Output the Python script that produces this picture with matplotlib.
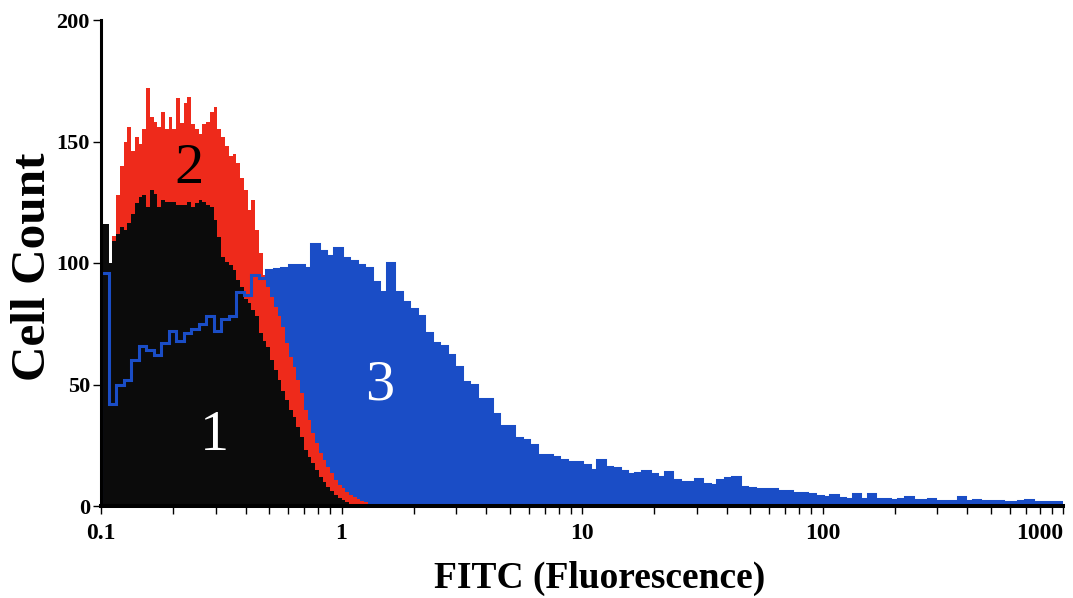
import numpy as np
import matplotlib
matplotlib.use("Agg")
import matplotlib.pyplot as plt
from matplotlib.ticker import LogLocator, FixedLocator, NullFormatter

# ---------------- data (cell counts per channel) ----------------
# fine channels (64 per decade starting at 0.1) for samples 1 and 2
black_counts = [116, 116, 100, 109, 112, 115, 113.5, 116.5, 120, 124.5, 127, 128, 123, 130,
                128.5, 123, 126, 125, 125, 125, 124, 124, 124, 125, 123, 124.5, 126, 125,
                124, 123, 117.5, 110.5, 102.5, 100.5, 99, 97, 93, 90, 85, 83.5, 80.5, 78,
                71, 68, 65.5, 60, 56, 52, 47.5, 43.5, 39.5, 36.5, 32.5, 28.5, 23, 20, 17.5,
                15, 12, 10, 8, 6, 4.5, 3.3, 2.5, 1.6, 1, 0.5, 0]
red_counts = [0, 0, 100, 111, 128, 140, 150, 156, 146, 152, 149, 155, 172, 160, 158, 156,
              162, 155, 160, 155, 168, 157.5, 166, 168.5, 157, 155, 153, 157, 158, 162, 164,
              155, 152, 148, 144, 145, 141, 135, 130, 122, 126, 113.6, 104, 95, 90, 86, 82,
              78, 73.7, 67, 61.5, 57, 52, 46.5, 39.5, 35.4, 30, 26, 21.8, 19, 16, 13.6, 10.7,
              8.6, 7.4, 5.8, 4.5, 3.7, 2.9, 2, 1.5, 1, 0.5, 0]
# coarser channels (32 per decade, 0.1 .. 1000) for sample 3
blue_counts = [96, 42, 50, 52, 60, 66, 64, 62, 67, 72,
               68, 71, 73, 75, 78, 72, 77, 78, 88, 87,
               95, 94, 97, 97.5, 98, 99, 99, 98, 108, 105,
               103, 106, 102, 101, 99, 98, 92, 88, 100, 88,
               84, 81, 78, 71, 67, 66, 62, 57, 51, 50,
               44, 44, 38, 33, 33, 28, 27, 25, 21, 21,
               20, 19, 18, 18, 17, 15, 19, 16, 15.5, 14.5,
               13, 13.5, 14.5, 13, 12, 14, 10.5, 10, 10, 11,
               9, 8.5, 10.5, 11.5, 12, 8, 7.5, 7, 7, 6.8,
               6, 6, 5.5, 5.5, 5, 4, 3.5, 4.5, 3.3, 3,
               4.8, 3, 4.8, 2.7, 2.7, 2.6, 3, 3.5, 2.4, 2.4,
               3, 2.2, 2.2, 2.1, 3.5, 2, 2.5, 2.2, 2.2, 2,
               1.8, 1.8, 2.2, 2.5, 1.5, 1.5, 1.5, 1.5]

x_start = 0.1
fine_per_decade = 64
coarse_per_decade = 32
y_ticks = [0, 50, 100, 150, 200]
x_major = [0.1, 1, 10, 100, 1000]
x_major_labels = ["0.1", "1", "10", "100", "1000"]
sample_labels = ["1", "2", "3"]
label_pos = [(0.295, 23), (0.232, 133), (1.445, 44)]

fine_edges = x_start * 10 ** (np.arange(len(black_counts) + 1) / fine_per_decade)
red_edges = x_start * 10 ** (np.arange(len(red_counts) + 1) / fine_per_decade)
blue_edges = x_start * 10 ** (np.arange(len(blue_counts) + 1) / coarse_per_decade)

RED = "#ee2a1b"
BLUE = "#1a4dc6"
BLACK = "#0b0b0b"

serif = ["Liberation Serif", "DejaVu Serif"]

fig = plt.figure(figsize=(10.73, 5.98), dpi=100)
ax = fig.add_axes([101 / 1073, 1 - 506 / 598, (1063 - 101) / 1073, (506 - 20) / 598])

ax.stairs(blue_counts, blue_edges, fill=True, color=BLUE, zorder=2)
ax.stairs(red_counts, red_edges, fill=True, color=RED, zorder=3)
ax.stairs(black_counts, fine_edges, fill=True, color=BLACK, zorder=4)
ax.stairs(blue_counts, blue_edges, fill=False, color=BLUE, lw=2.2, zorder=5)

ax.set_xscale("log")
ax.set_xlim(0.1, 1000)
ax.set_ylim(0, 200)

for sp in ["top", "right"]:
    ax.spines[sp].set_visible(False)
ax.spines["left"].set_linewidth(2.2)
ax.spines["bottom"].set_linewidth(2.9)
ax.spines["left"].set_zorder(6)
ax.spines["bottom"].set_zorder(6)

ax.set_yticks(y_ticks)
ax.set_yticklabels([str(v) for v in y_ticks], fontfamily=serif, fontweight="bold", fontsize=16)
ax.tick_params(axis="y", direction="out", length=6, width=1, pad=2)

ax.xaxis.set_major_locator(FixedLocator(x_major))
ax.set_xticklabels(x_major_labels, fontfamily=serif, fontweight="bold", fontsize=17)
ax.xaxis.set_minor_locator(LogLocator(base=10, subs=np.arange(2, 10)))
ax.xaxis.set_minor_formatter(NullFormatter())
ax.tick_params(axis="x", which="both", direction="out", length=6, width=1, pad=6)
xt = ax.get_xticklabels()
xt[-1].set_horizontalalignment("right")
xt[-1].set_x(1000)

for txt, (xx, yy) in zip(sample_labels, label_pos):
    ax.text(xx, yy, txt, fontfamily=serif, fontsize=42, ha="center", va="baseline",
            color="black" if txt == "2" else "white", zorder=7)

fig.text(33 / 1073, 1 - 267 / 598, "Cell Count", rotation=90, ha="center", va="center",
         fontfamily=serif, fontweight="bold", fontsize=35.5)
fig.text(600 / 1073, 1 - 578 / 598, "FITC (Fluorescence)", ha="center", va="center",
         fontfamily=serif, fontweight="bold", fontsize=27)

fig.savefig("out.png", dpi=100, facecolor="white")
